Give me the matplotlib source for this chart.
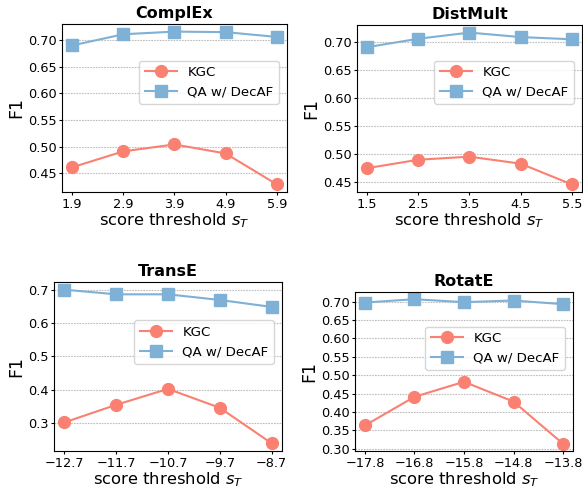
import matplotlib
matplotlib.use("Agg")
import matplotlib.pyplot as plt
from matplotlib.ticker import MultipleLocator


models = ["ComplEx", "DistMult", "TransE", "RotatE"]

thresholds = {
    "ComplEx": [1.9, 2.9, 3.9, 4.9, 5.9],
    "DistMult": [1.5, 2.5, 3.5, 4.5, 5.5],
    "TransE": [-12.7, -11.7, -10.7, -9.7, -8.7],
    "RotatE": [-17.8, -16.8, -15.8, -14.8, -13.8],
}

kgc_f1 = {
    "ComplEx": [0.461, 0.491, 0.504, 0.487, 0.429],
    "DistMult": [0.475, 0.490, 0.4955, 0.483, 0.446],
    "TransE": [0.301, 0.354, 0.402, 0.345, 0.238],
    "RotatE": [0.363, 0.441, 0.482, 0.428, 0.313],
}

qa_f1 = {
    "ComplEx": [0.690, 0.711, 0.716, 0.715, 0.706],
    "DistMult": [0.691, 0.706, 0.717, 0.709, 0.705],
    "TransE": [0.701, 0.687, 0.687, 0.670, 0.649],
    "RotatE": [0.698, 0.707, 0.699, 0.7035, 0.6935],
}

# y tick step used by each panel
y_step = {"ComplEx": 0.05, "DistMult": 0.05, "TransE": 0.1, "RotatE": 0.05}

# axes rectangles in figure fractions (panels were laid out individually)
positions = {
    "ComplEx": [0.1063, 0.6082, 0.3859, 0.3429],
    "DistMult": [0.6123, 0.6082, 0.3859, 0.3408],
    "TransE": [0.0926, 0.0796, 0.3911, 0.3449],
    "RotatE": [0.6089, 0.0795, 0.3739, 0.3246],
}
legend_y = {"ComplEx": 0.652, "DistMult": 0.656, "TransE": 0.644, "RotatE": 0.645}

kgc_color = "#fa8072"
qa_color = "#7fb0d5"

fig = plt.figure(figsize=(5.83, 4.90), dpi=100)

for name in models:
    ax = fig.add_axes(positions[name])
    x = thresholds[name]
    ax.plot(x, kgc_f1[name], color=kgc_color, marker="o", markersize=8.5,
            linewidth=1.5, label="KGC")
    ax.plot(x, qa_f1[name], color=qa_color, marker="s", markersize=8.5,
            linewidth=1.5, label="QA w/ DecAF")
    ax.set_xticks(x)
    ax.set_xticklabels([f"{v:.1f}".replace("-", "\u2212") for v in x])
    ax.yaxis.set_major_locator(MultipleLocator(y_step[name]))
    ax.yaxis.set_major_formatter(
        "{x:.2f}" if y_step[name] < 0.1 else "{x:.1f}")
    ax.tick_params(labelsize=9.3, length=2.5, pad=1.5)
    ax.set_title(name, fontsize=11.5, fontweight="bold", pad=4)
    ax.set_xlabel("score threshold $s_T$", fontsize=11.8, labelpad=0.5)
    ax.set_ylabel("F1", fontsize=12.5, labelpad=2)
    ax.grid(axis="y", linestyle=(0, (1.5, 1)), linewidth=0.8, color="#bdbdbd")
    ax.set_axisbelow(True)
    ax.legend(loc="center right", bbox_to_anchor=(1.0, legend_y[name]),
              fontsize=9.6, handlelength=2.4, borderaxespad=0.6)

fig.savefig("out.png", dpi=100)
plt.close(fig)
